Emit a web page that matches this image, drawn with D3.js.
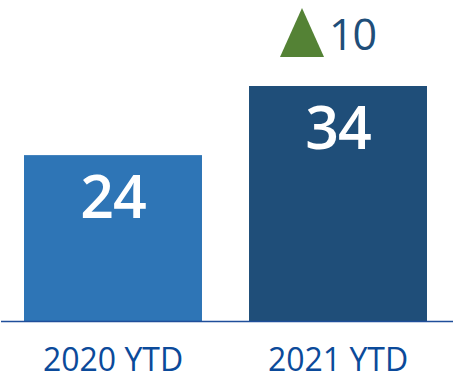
<!DOCTYPE html>
<html>
<head>
<meta charset="utf-8">
<script src="https://cdn.jsdelivr.net/npm/d3@7"></script>
<style>
    body { margin: 0; background: #fff; }
    svg { display: block; }
</style>
</head>
<body>
<script>
const categories = ["2020 YTD", "2021 YTD"];
const values = [24, 34];
const changes = [null, 10];
const barColors = ["#2E75B6", "#1F4E79"];

const width = 453, height = 385;
const baseY = 321;

const svg = d3.select("body")
    .append("svg")
    .attr("width", width)
    .attr("height", height)
    .style("font-family", "'Open Sans', sans-serif");

const x = d3.scaleBand()
    .domain(categories)
    .range([24, 427])
    .paddingInner(0.209)
    .paddingOuter(0);

const y = d3.scaleLinear()
    .domain([0, 34])
    .range([baseY, 86]);

const data = categories.map((c, i) => ({cat: c, value: values[i], change: changes[i], color: barColors[i]}));

svg.append("g")
    .selectAll("rect")
    .data(data)
    .join("rect")
    .attr("x", d => x(d.cat))
    .attr("y", d => y(d.value))
    .attr("width", x.bandwidth())
    .attr("height", d => y(0) - y(d.value))
    .attr("fill", d => d.color);

// value labels inside bars
svg.append("g")
    .selectAll("text")
    .data(data)
    .join("text")
    .attr("x", d => x(d.cat) + x.bandwidth() / 2)
    .attr("y", d => y(d.value) + 63)
    .attr("text-anchor", "middle")
    .attr("fill", "#fff")
    .attr("font-size", 59)
    .attr("font-weight", 600)
    .attr("letter-spacing", -1)
    .text(d => d.value);

// baseline
svg.append("line")
    .attr("x1", 1)
    .attr("x2", width)
    .attr("y1", y(0) + 0.5)
    .attr("y2", y(0) + 0.5)
    .attr("stroke", "#1F4E9A")
    .attr("stroke-width", 1.5);

// category axis
const xAxis = d3.axisBottom(x).tickSize(0).tickPadding(0);
svg.append("g")
    .attr("transform", `translate(0,${y(0)})`)
    .call(xAxis)
    .call(g => g.select(".domain").remove())
    .call(g => g.selectAll("text")
        .attr("dy", null)
        .attr("y", 50)
        .attr("fill", "#0B4A9A")
        .attr("font-size", 32)
        .attr("font-family", "'Open Sans', sans-serif"));

// change indicator
const delta = data.filter(d => d.change != null);
const dg = svg.append("g")
    .selectAll("g")
    .data(delta)
    .join("g")
    .attr("transform", d => `translate(${x(d.cat) + x.bandwidth() / 2},${y(d.value) - 29})`);

dg.append("path")
    .attr("d", "M-22,0 L0,-49 L22,0 Z")
    .attr("transform", "translate(-36,0)")
    .attr("fill", "#548235");

dg.append("text")
    .attr("x", -9)
    .attr("y", -7)
    .attr("fill", "#1F4E79")
    .attr("font-size", 43)
    .attr("letter-spacing", -1)
    .text(d => d.change);
</script>
</body>
</html>
